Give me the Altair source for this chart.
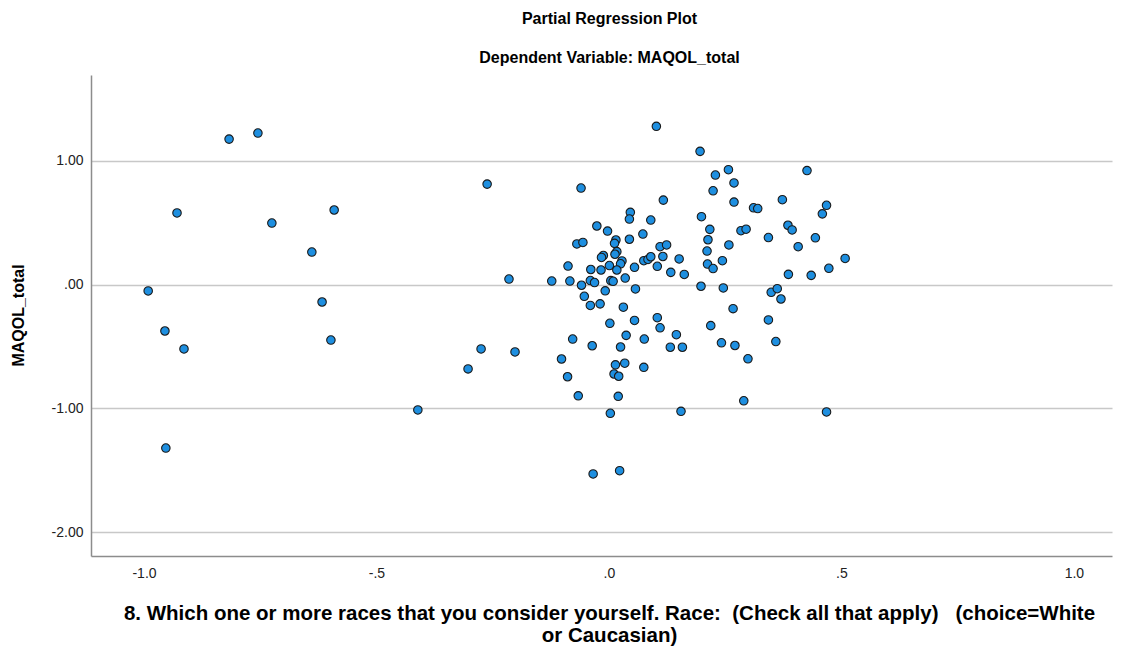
import altair as alt
import pandas as pd

# Partial regression residuals
race_white_resid = [
    -0.817, -0.755, -0.929, -0.725, -0.591, -0.639, -0.991, -0.617, -0.955, -0.914,
    -0.598, -0.953, -0.411, -0.303, -0.275, -0.262, -0.215, -0.202, -0.123, -0.084,
    -0.060, -0.088, -0.069, -0.056, -0.026, -0.003, 0.046, 0.044, 0.090, 0.117,
    0.073, 0.044, 0.015, 0.012, 0.017, 0.013, -0.012, -0.016, -0.039, -0.017,
    0.001, 0.028, 0.025, 0.017, 0.055, 0.075, 0.084, 0.090, 0.110, 0.124,
    0.116, 0.104, 0.133, 0.151, 0.162, 0.199, 0.217, 0.213, 0.211, 0.212,
    0.224, 0.244, 0.258, 0.229, 0.257, 0.224, 0.269, 0.269, 0.284, 0.295,
    0.311, 0.320, 0.343, 0.373, 0.385, 0.394, 0.407, 0.426, 0.444, 0.468,
    0.459, 0.508, 0.473, 0.435, 0.386, -0.040, -0.031, 0.004, 0.009, 0.035,
    -0.059, 0.057, -0.008, -0.053, 0.198, 0.246, 0.349, 0.362, 0.370, -0.040,
    -0.019, 0.031, 0.002, 0.055, 0.104, 0.110, -0.078, -0.036, 0.037, 0.025,
    0.076, 0.132, 0.158, 0.145, 0.219, 0.267, 0.242, 0.271, 0.299, 0.343,
    0.359, -0.102, -0.089, -0.066, 0.014, 0.034, 0.011, 0.021, 0.075, 0.020,
    0.003, 0.155, 0.290, 0.468, -0.034, 0.023, 0.102, 0.196,
]
maqol_resid = [
    1.173, 1.222, 0.577, 0.496, 0.601, 0.262, -0.052, -0.141, -0.375, -0.520,
    -0.448, -1.319, -1.012, -0.681, -0.520, 0.810, 0.044, -0.544, 0.028, 0.028,
    0.778, 0.149, 0.327, 0.339, 0.472, 0.431, 0.582, 0.528, 0.520, 0.681,
    0.407, 0.365, 0.359, 0.332, 0.265, 0.244, 0.234, 0.218, 0.121, 0.117,
    0.153, 0.190, 0.167, 0.117, 0.139, 0.192, 0.202, 0.224, 0.305, 0.319,
    0.226, 0.147, 0.098, 0.206, 0.081, 0.547, 0.445, 0.361, 0.270, 0.165,
    0.129, 0.192, 0.319, 0.883, 0.926, 0.756, 0.819, 0.665, 0.434, 0.446,
    0.619, 0.613, 0.379, 0.684, 0.478, 0.440, 0.305, 0.919, 0.377, 0.639,
    0.570, 0.210, 0.131, 0.074, 0.082, 0.032, 0.016, 0.031, 0.026, 0.052,
    -0.006, -0.036, -0.051, -0.095, -0.014, -0.028, -0.063, -0.034, -0.117, -0.169,
    -0.156, -0.183, -0.313, -0.290, -0.268, -0.349, -0.440, -0.494, -0.410, -0.504,
    -0.440, -0.506, -0.506, -0.405, -0.332, -0.195, -0.470, -0.492, -0.599, -0.286,
    -0.460, -0.601, -0.744, -0.898, -0.648, -0.635, -0.722, -0.740, -0.668, -0.902,
    -1.039, -1.023, -0.938, -1.028, -1.528, -1.502, 1.276, 1.074,
]

x_ticks = [-1.0, -0.5, 0.0, 0.5, 1.0]
y_ticks = [1.0, 0.0, -1.0, -2.0]

df = pd.DataFrame({"x": race_white_resid, "y": maqol_resid})

FONT = "Liberation Sans"
NB = "\u00a0"

x_title = [
    "8. Which one or more races that you consider yourself. Race:" + NB + NB
    + "(Check all that apply)" + NB + NB + NB + "(choice=White",
    "or Caucasian)",
]

x_label_expr = (
    "(datum.value < 0 ? '-' : '') + "
    "(abs(datum.value) < 1 ? '.' + format(abs(datum.value) * 10, 'd') : format(abs(datum.value), '.1f'))"
)
y_label_expr = (
    "(datum.value < 0 ? '-' : '') + "
    "(datum.value == 0 ? '.00' : format(abs(datum.value), '.2f'))"
)

chart = (
    alt.Chart(df)
    .mark_circle(size=72, color="#1E8FE0", opacity=1, stroke="#1a1a1a", strokeWidth=1.1)
    .encode(
        x=alt.X(
            "x:Q",
            scale=alt.Scale(domain=[-1.114, 1.082], nice=False, zero=False),
            axis=alt.Axis(
                values=x_ticks,
                labelExpr=x_label_expr,
                grid=False,
                ticks=False,
                domainColor="#8c8c8c",
                domainWidth=1.5,
                labelFont=FONT,
                labelFontSize=14,
                labelColor="#222222",
                labelPadding=10,
                title=x_title,
                titleFont=FONT,
                titleFontSize=20.5,
                titleFontWeight="bold",
                titleColor="#000000",
                titleX=518,
                titleY=47,
                titleAnchor="middle",
                titleAlign="center",
                titleBaseline="top",
                titleLineHeight=22,
            ),
        ),
        y=alt.Y(
            "y:Q",
            scale=alt.Scale(domain=[-2.19, 1.69], nice=False, zero=False),
            axis=alt.Axis(
                values=y_ticks,
                labelExpr=y_label_expr,
                grid=True,
                gridColor="#c8c8c8",
                gridWidth=1.5,
                ticks=False,
                domainColor="#8c8c8c",
                domainWidth=1.5,
                labelFont=FONT,
                labelFontSize=14,
                labelColor="#222222",
                labelPadding=8,
                title="MAQOL_total",
                titleFont=FONT,
                titleFontSize=16,
                titleFontWeight="bold",
                titleColor="#000000",
                titleX=-73,
                titleY=240,
                titleAngle=270,
                titleAlign="center",
                titleBaseline="middle",
            ),
        ),
    )
    .properties(
        width=1021,
        height=481,
        padding={"left": 83, "top": 67, "right": 6, "bottom": 90},
        autosize=alt.AutoSizeParams(type="none"),
        title=alt.TitleParams(
            text="Partial Regression Plot",
            subtitle="Dependent Variable: MAQOL_total",
            font=FONT,
            subtitleFont=FONT,
            fontSize=16,
            subtitleFontSize=16,
            fontWeight="bold",
            subtitleFontWeight="bold",
            color="#000000",
            subtitleColor="#000000",
            anchor="middle",
            dx=8,
            offset=9,
            subtitlePadding=23,
        ),
    )
    .configure_view(stroke=None)
)

chart.save("out.html", embed_options={"renderer": "svg", "actions": False})
